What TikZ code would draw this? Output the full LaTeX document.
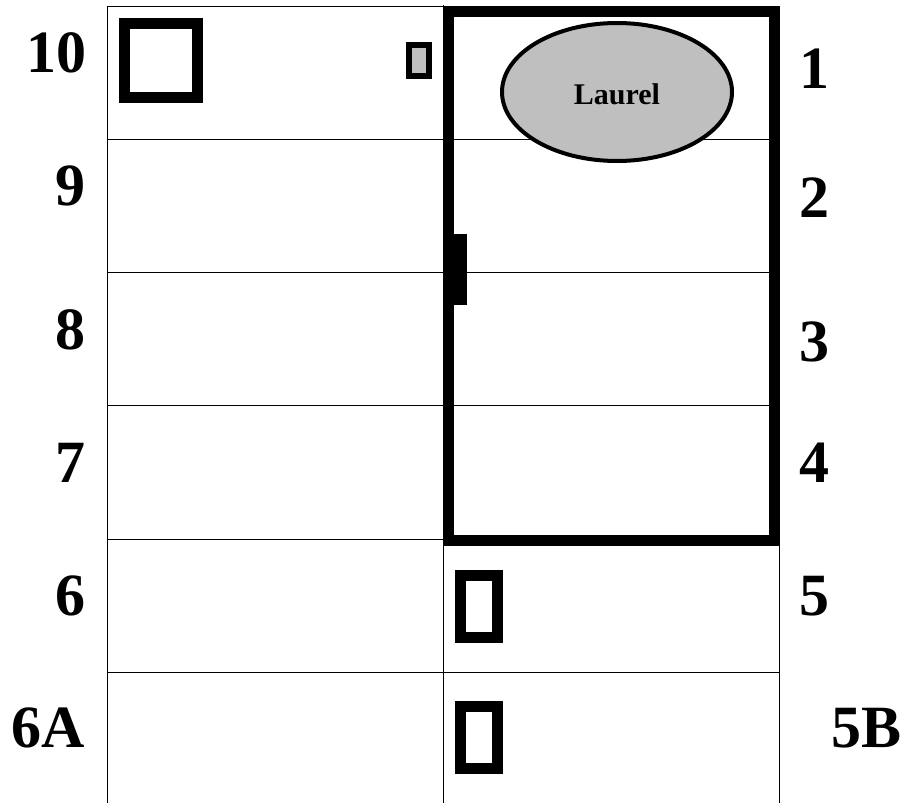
\documentclass[tikz,border=0pt]{standalone}
\usepackage{fontspec}
\setmainfont{Liberation Serif}
\tikzset{
  gridline/.style={black,line width=1.1pt},
  heavy/.style={draw=black,line width=11pt,line join=miter},
  numlabel/.style={font=\fontsize{60}{60}\selectfont\bfseries,inner sep=0pt,anchor=center},
}
\begin{document}
\begin{tikzpicture}[x=1pt,y=-1pt]
\useasboundingbox (0,0) rectangle (904,803);
\fill[white] (0,0) rectangle (904,803);
% grid
\draw[gridline] (107.5,803) -- (107.5,6.5) -- (779.5,6.5) -- (779.5,803);
\draw[gridline] (443.5,5) -- (443.5,803);
\foreach \y in {139.5,272.5,405.5,539.5,672.5}
  \draw[gridline] (107.5,\y) -- (779.5,\y);
% heavy frame and door
\draw[heavy] (448.5,11.5) rectangle (774,540.5);
\fill[black] (443,234) rectangle (467,305);
% small items
\draw[heavy] (124.5,23.5) rectangle (197.5,97);
\draw[draw=black,fill=black!25,line width=6pt] (409,45) rectangle (429,76);
\draw[heavy] (460.5,575.5) rectangle (497.5,637);
\draw[heavy] (460.5,706.5) rectangle (497.5,768.5);
% ellipse
\draw[black,fill=black!25,line width=4pt] (617,92) ellipse [x radius=115,y radius=69];
\node[font=\fontsize{30}{30}\selectfont\bfseries,inner sep=0pt] (laurel) at (617,94) {Laurel};
% labels
\node[numlabel] (n10) at (56,53) {10};
\node[numlabel] (n9) at (70,186) {9};
\node[numlabel] (n8) at (70,330) {8};
\node[numlabel] (n7) at (70,463) {7};
\node[numlabel] (n6) at (70,596) {6};
\node[numlabel] (n6a) at (48,728) {6A};
\node[numlabel] (n1) at (814,69) {1};
\node[numlabel] (n2) at (814,198) {2};
\node[numlabel] (n3) at (814,342) {3};
\node[numlabel] (n4) at (814,463) {4};
\node[numlabel] (n5) at (814,596) {5};
\node[numlabel] (n5b) at (866,728) {5B};
\end{tikzpicture}
\end{document}
